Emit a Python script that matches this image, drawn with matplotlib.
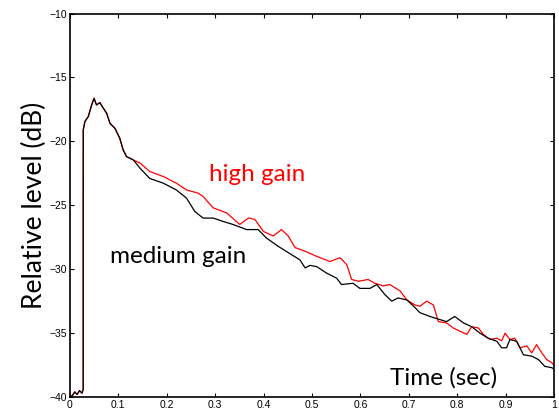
import numpy as np
import matplotlib.pyplot as plt

# shared onset (both gains overlap up to ~0.13 s)
t_on = [0.0, 0.005, 0.010, 0.015, 0.020, 0.025, 0.0275, 0.0276, 0.031, 0.038, 0.045, 0.050,
        0.055, 0.062, 0.069, 0.076, 0.083, 0.093, 0.103, 0.110, 0.117, 0.131]
lv_on = [-40.0, -39.9, -39.6, -39.8, -39.5, -39.7, -39.4, -19.1, -18.45, -18.06, -17.15, -16.63,
         -17.15, -16.97, -17.4, -17.8, -18.6, -18.97, -19.75, -20.66, -21.19, -21.45]

t_high = [0.145, 0.165, 0.193, 0.22, 0.241, 0.265, 0.275, 0.296, 0.324, 0.351, 0.369, 0.382,
          0.40, 0.42, 0.437, 0.451, 0.465, 0.486, 0.51, 0.517, 0.537, 0.558, 0.572, 0.582,
          0.596, 0.616, 0.630, 0.647, 0.661, 0.682, 0.696, 0.713, 0.723, 0.737, 0.751, 0.761,
          0.778, 0.792, 0.806, 0.82, 0.83, 0.844, 0.854, 0.868, 0.882, 0.892, 0.899, 0.909,
          0.919, 0.93, 0.944, 0.954, 0.964, 0.975, 0.985, 0.995, 1.0]
lv_high = [-21.7, -22.36, -22.75, -23.27, -23.8, -24.05, -24.3, -25.2, -25.6, -26.5, -26.0, -26.1,
           -27.05, -27.4, -26.9, -27.4, -28.3, -28.6, -29.0, -29.1, -29.4, -29.1, -29.65, -30.8,
           -30.95, -30.8, -31.1, -31.3, -31.2, -31.7, -32.4, -32.8, -32.9, -32.5, -32.8, -34.1,
           -34.2, -34.6, -34.86, -35.1, -34.5, -34.6, -35.1, -35.5, -35.4, -35.6, -35.0, -35.5,
           -35.4, -36.15, -36.0, -36.55, -35.9, -36.55, -37.07, -37.3, -37.5]

t_med = [0.145, 0.165, 0.193, 0.22, 0.241, 0.258, 0.275, 0.296, 0.317, 0.337, 0.365, 0.389,
         0.406, 0.43, 0.451, 0.468, 0.475, 0.486, 0.496, 0.51, 0.53, 0.551, 0.561, 0.585,
         0.599, 0.62, 0.634, 0.651, 0.665, 0.678, 0.696, 0.713, 0.723, 0.744, 0.761, 0.778,
         0.795, 0.813, 0.83, 0.847, 0.864, 0.882, 0.892, 0.902, 0.909, 0.923, 0.937, 0.954,
         0.968, 0.981, 0.995, 1.0]
lv_med = [-22.1, -22.9, -23.27, -23.8, -24.44, -25.48, -26.0, -26.0, -26.27, -26.5, -26.9, -26.9,
          -27.56, -28.2, -28.7, -29.1, -29.26, -29.9, -29.7, -29.8, -30.3, -30.7, -31.2, -31.1,
          -31.5, -31.5, -31.2, -32.0, -32.5, -32.25, -32.4, -33.0, -33.4, -33.7, -33.9, -34.1,
          -33.7, -34.2, -34.5, -35.0, -35.4, -35.64, -36.15, -36.15, -35.5, -35.64, -36.7, -36.8,
          -37.07, -37.6, -37.7, -37.8]

fig = plt.figure(figsize=(5.59, 4.11), dpi=100)
ax = fig.add_axes([0.125, 0.034, 0.866, 0.933])

ax.plot(t_on + t_high, lv_on + lv_high, color='red', lw=0.9)
ax.plot(t_on + t_med, lv_on + lv_med, color='black', lw=0.9)

ax.set_xlim(0, 1)
ax.set_ylim(-40, -10)
ax.set_xticks(np.arange(0, 1.01, 0.1))
ax.set_xticklabels(['0', '0.1', '0.2', '0.3', '0.4', '0.5', '0.6', '0.7', '0.8', '0.9', '1'])
ax.set_yticks(np.arange(-40, -9, 5))
ax.tick_params(direction='in', top=True, right=True, labelsize=7.5, length=3, pad=2,
               width=0.8)
for lab in ax.get_xticklabels() + ax.get_yticklabels():
    lab.set_family('Liberation Sans')
for s in ax.spines.values():
    s.set_linewidth(1.2)

ax.set_ylabel('Relative level (dB)', labelpad=2, family='Lato', fontsize=19)
lbl = dict(family='Lato', fontsize=17.5)
ax.text(0.287, -22.6, 'high gain', color='red', va='center', **lbl)
ax.text(0.083, -29.0, 'medium gain', color='black', va='center', **lbl)
ax.text(0.661, -38.5, 'Time (sec)', color='black', va='center', **lbl)

fig.savefig('out.png', dpi=100)
